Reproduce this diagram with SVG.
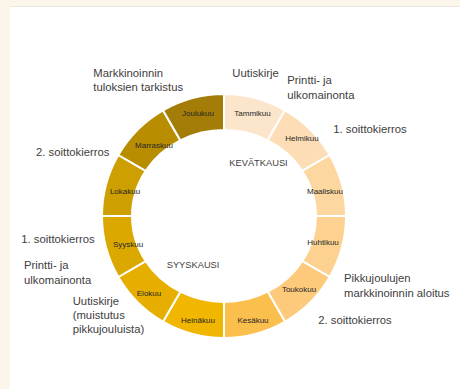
<svg xmlns="http://www.w3.org/2000/svg" width="460" height="389" viewBox="0 0 460 389">
<style>
.seg{stroke:#fff;stroke-width:2;stroke-linejoin:miter}
.m{font-family:"Liberation Sans",Arial,sans-serif;font-size:8px;fill:#262626;text-anchor:middle}
.lbl{font-family:"Liberation Sans",Arial,sans-serif;font-size:11.3px;fill:#404040}
.season{font-family:"Liberation Sans",Arial,sans-serif;font-size:9.3px;fill:#404040}
</style>
<rect x="0" y="0" width="460" height="389" fill="#FBF5EA"/>
<rect x="10" y="7" width="450" height="382" fill="#FFFFFF"/>
<line x1="10" y1="6.5" x2="460" y2="6.5" stroke="#ECE8E0" stroke-width="1"/>
<g id="ring">
<g id="tammikuu"><path class="seg" fill="#FCE6CB" d="M224,94 A122,122 0 0 1 285,110.34 L267.7,140.32 A92,86 0 0 0 224,130 Z"/><text class="m" x="252.5" y="115.5">Tammikuu</text></g>
<g id="helmikuu"><path class="seg" fill="#FCDDB6" d="M285,110.34 A122,122 0 0 1 329.66,155 L302.28,170.8 A92,86 0 0 0 267.7,140.32 Z"/><text class="m" x="302" y="140.5">Helmikuu</text></g>
<g id="maaliskuu"><path class="seg" fill="#FDD7A0" d="M329.66,155 A122,122 0 0 1 346,216 L316,216 A92,86 0 0 0 302.28,170.8 Z"/><text class="m" x="325" y="194">Maaliskuu</text></g>
<g id="huhtikuu"><path class="seg" fill="#FDD290" d="M346,216 A122,122 0 0 1 329.66,277 L302.28,261.2 A92,86 0 0 0 316,216 Z"/><text class="m" x="323" y="245">Huhtikuu</text></g>
<g id="toukokuu"><path class="seg" fill="#FDCA7C" d="M329.66,277 A122,122 0 0 1 285,321.66 L267.7,291.68 A92,86 0 0 0 302.28,261.2 Z"/><text class="m" x="299" y="292">Toukokuu</text></g>
<g id="kesakuu"><path class="seg" fill="#FBBF4E" d="M285,321.66 A122,122 0 0 1 224,338 L224,302 A92,86 0 0 0 267.7,291.68 Z"/><text class="m" x="253" y="322.5">Kesäkuu</text></g>
<g id="heinakuu"><path class="seg" fill="#F1B600" d="M224,338 A122,122 0 0 1 163,321.66 L180.3,291.68 A92,86 0 0 0 224,302 Z"/><text class="m" x="198" y="322.5">Heinäkuu</text></g>
<g id="elokuu"><path class="seg" fill="#E6AF00" d="M163,321.66 A122,122 0 0 1 118.34,277 L145.72,261.2 A92,86 0 0 0 180.3,291.68 Z"/><text class="m" x="149" y="295.5">Elokuu</text></g>
<g id="syyskuu"><path class="seg" fill="#DBA800" d="M118.34,277 A122,122 0 0 1 102,216 L132,216 A92,86 0 0 0 145.72,261.2 Z"/><text class="m" x="128" y="246.5">Syyskuu</text></g>
<g id="lokakuu"><path class="seg" fill="#CE9F00" d="M102,216 A122,122 0 0 1 118.34,155 L145.72,170.8 A92,86 0 0 0 132,216 Z"/><text class="m" x="125" y="193.5">Lokakuu</text></g>
<g id="marraskuu"><path class="seg" fill="#B88D00" d="M118.34,155 A122,122 0 0 1 163,110.34 L180.3,140.32 A92,86 0 0 0 145.72,170.8 Z"/><text class="m" x="154" y="147.5">Marraskuu</text></g>
<g id="joulukuu"><path class="seg" fill="#A37D07" d="M163,110.34 A122,122 0 0 1 224,94 L224,130 A92,86 0 0 0 180.3,140.32 Z"/><text class="m" x="198" y="115.5">Joulukuu</text></g>
</g>
<g id="seasons">
<text class="season" x="229.3" y="165.7">KEVÄTKAUSI</text>
<text class="season" x="166.7" y="268">SYYSKAUSI</text>
</g>
<g id="labels">
<text class="lbl" x="93.3" y="77">Markkinoinnin</text>
<text class="lbl" x="93.3" y="91">tuloksien tarkistus</text>
<text class="lbl" x="232.3" y="77">Uutiskirje</text>
<text class="lbl" x="287.3" y="84">Printti- ja</text>
<text class="lbl" x="287.3" y="98.5">ulkomainonta</text>
<text class="lbl" x="333.3" y="133">1. soittokierros</text>
<text class="lbl" x="36" y="156">2. soittokierros</text>
<text class="lbl" x="21.3" y="243">1. soittokierros</text>
<text class="lbl" x="24" y="269">Printti- ja</text>
<text class="lbl" x="24" y="284">ulkomainonta</text>
<text class="lbl" x="72.7" y="304.7">Uutiskirje</text>
<text class="lbl" x="72.7" y="319">(muistutus</text>
<text class="lbl" x="72.7" y="333">pikkujouluista)</text>
<text class="lbl" x="344" y="282.3">Pikkujoulujen</text>
<text class="lbl" x="344" y="296.5">markkinoinnin aloitus</text>
<text class="lbl" x="318.3" y="324">2. soittokierros</text>
</g>
</svg>
